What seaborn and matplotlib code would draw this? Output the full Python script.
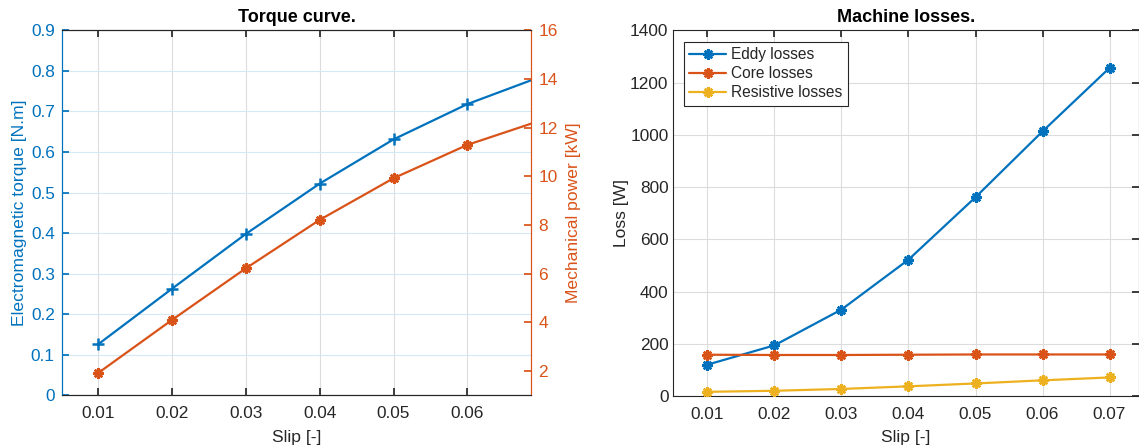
import matplotlib
matplotlib.use("Agg")
import matplotlib.pyplot as plt
import seaborn as sns
import numpy as np
from matplotlib.ticker import FuncFormatter

# ---- data ----
slip = [0.01, 0.02, 0.03, 0.04, 0.05, 0.06, 0.07]
torque = [0.126, 0.263, 0.398, 0.522, 0.631, 0.718, 0.786]
power = [1.92, 4.10, 6.22, 8.21, 9.92, 11.29, 12.30]
eddy = [120, 194, 331, 522, 761, 1013, 1256]
core = [158, 157, 157, 158, 159, 159, 159]
resistive = [16, 20, 27, 37, 48, 60, 71]

left_xticks = [0.01, 0.02, 0.03, 0.04, 0.05, 0.06]
right_xticks = [0.01, 0.02, 0.03, 0.04, 0.05, 0.06, 0.07]
torque_ticks = [0, 0.1, 0.2, 0.3, 0.4, 0.5, 0.6, 0.7, 0.8, 0.9]
power_ticks = [2, 4, 6, 8, 10, 12, 14, 16]
loss_ticks = [0, 200, 400, 600, 800, 1000, 1200, 1400]

BLUE = "#0072BD"
ORANGE = "#D95319"
YELLOW = "#EDB120"
DARK = "#262626"
GRID = "#dcdcdc"
GRID_BLUE = "#d6e8f4"

sns.set_theme(style="white")
plt.rcParams['font.family'] = ['Liberation Sans', 'DejaVu Sans']
plt.rcParams['axes.linewidth'] = 0.8

fig = plt.figure(figsize=(11.39, 4.48), dpi=100)
W, H = 1139, 448
ax1 = fig.add_axes([61.7 / W, (H - 395.3) / H, 469.6 / W, 365.0 / H])
ax3 = fig.add_axes([673.3 / W, (H - 396.0) / H, (1139 - 673.3) / W, 365.7 / H])

fmt = FuncFormatter(lambda v, p: "%g" % round(v, 6))
ASTER = (8, 2, 0)
FS = 12.4
LFS = 12.6
TFS = 13


def mk(color, marker, size=7.5):
    return dict(color=color, marker=marker, markersize=size, markeredgewidth=1.8,
                markeredgecolor=color, markerfacecolor=color, linewidth=1.6)


# ---- left: torque curve ----
sns.lineplot(x=slip, y=torque, ax=ax1, zorder=3, **mk(BLUE, '+', 8))
ax2 = ax1.twinx()
sns.lineplot(x=slip, y=power, ax=ax2, zorder=3, **mk(ORANGE, ASTER))

ax1.set_xlim(0.00504, 0.06867)
ax1.set_ylim(0, 0.9)
ax2.set_ylim(1.0, 16.0)
ax1.set_xticks(left_xticks)
ax1.set_yticks(torque_ticks)
ax2.set_yticks(power_ticks)
ax1.xaxis.set_major_formatter(fmt)
ax1.yaxis.set_major_formatter(fmt)
ax2.yaxis.set_major_formatter(fmt)

ax1.set_axisbelow(True)
ax1.xaxis.grid(True, color=GRID, linewidth=0.8)
ax1.yaxis.grid(True, color=GRID_BLUE, linewidth=0.8)

ax1.tick_params(axis='x', direction='in', top=True, bottom=True, length=5,
                colors=DARK, labelsize=FS, pad=8, labelcolor=DARK)
ax1.tick_params(axis='y', direction='in', left=True, right=False, length=5,
                colors=BLUE, labelsize=FS, pad=5)
ax2.tick_params(axis='y', direction='in', right=True, left=False, length=5,
                colors=ORANGE, labelsize=FS, pad=5)
ax2.tick_params(axis='x', top=False, bottom=False)

for a in (ax1, ax2):
    a.spines['top'].set_color(DARK)
    a.spines['bottom'].set_color(DARK)
    a.spines['left'].set_color(BLUE)
    a.spines['right'].set_color(ORANGE)

ax1.set_xlabel("Slip [-]", fontsize=LFS, color=DARK, labelpad=6)
ax1.set_ylabel("Electromagnetic torque [N.m]", fontsize=LFS, color=BLUE, labelpad=3)
ax2.set_ylabel("Mechanical power [kW]", fontsize=LFS, color=ORANGE, labelpad=6)
ax1.set_title("Torque curve.", fontsize=TFS, fontweight='bold', color='black', pad=6)

# ---- right: machine losses ----
sns.lineplot(x=slip, y=eddy, ax=ax3, label="Eddy losses", zorder=3, **mk(BLUE, ASTER))
sns.lineplot(x=slip, y=core, ax=ax3, label="Core losses", zorder=3, **mk(ORANGE, ASTER))
sns.lineplot(x=slip, y=resistive, ax=ax3, label="Resistive losses", zorder=3,
             **mk(YELLOW, ASTER))

ax3.set_xlim(0.0049, 0.0744)
ax3.set_ylim(0, 1400)
ax3.set_xticks(right_xticks)
ax3.set_yticks(loss_ticks)
ax3.xaxis.set_major_formatter(fmt)
ax3.yaxis.set_major_formatter(fmt)
ax3.set_axisbelow(True)
ax3.grid(True, color=GRID, linewidth=0.8)
ax3.tick_params(axis='both', direction='in', top=True, right=True, length=5,
                colors=DARK, labelsize=FS)
ax3.tick_params(axis='x', pad=8)
for s in ax3.spines.values():
    s.set_color(DARK)
ax3.set_xlabel("Slip [-]", fontsize=LFS, color=DARK, labelpad=6)
ax3.set_ylabel("Loss [W]", fontsize=LFS, color=DARK, labelpad=1)
ax3.set_title("Machine losses.", fontsize=TFS, fontweight='bold', color='black', pad=6)

leg = ax3.legend(loc='upper left', bbox_to_anchor=(0.022, 0.968), fontsize=11.2,
                 frameon=True, fancybox=False, framealpha=1, edgecolor=DARK,
                 handlelength=2.4, borderpad=0.35, labelspacing=0.25,
                 handletextpad=0.3, borderaxespad=0)
leg.get_frame().set_linewidth(0.8)

fig.savefig("out.png", dpi=100)
